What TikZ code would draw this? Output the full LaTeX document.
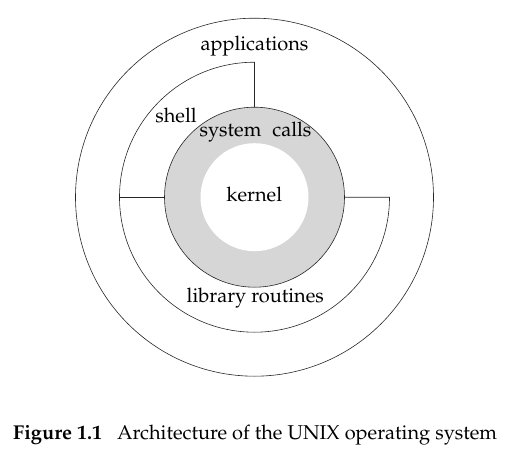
\documentclass[tikz,border=0pt]{standalone}
\usepackage[T1]{fontenc}
\usepackage{mathpazo}
\definecolor{callgray}{gray}{0.84}
\tikzset{
  ring/.style={line width=0.6pt, draw=black!85},
  lbl/.style={font=\fontsize{20}{24}\selectfont, anchor=base, inner sep=0pt},
}
\begin{document}
\begin{tikzpicture}[x=1pt, y=1pt]
        \useasboundingbox (0,0) rectangle (525,451);
        \coordinate (c) at (254.5, 253.8);

        % outer ring: applications
        \draw [ring] (c) circle [radius=179];

        % shell and library routines
        \draw [ring] (c) ++(90:135) arc [start angle=90, end angle=360, radius=135] -- ++(-45,0);
        \draw [ring] (c) ++(90:135) -- ++(0,-45);
        \draw [ring] (c) ++(180:135) -- ++(45,0);

        % system calls and kernel
        \filldraw [ring, fill=callgray] (c) circle [radius=90];
        \fill [white] (c) circle [radius=54];

        \node (apps)   at (254.5, 400.3) [lbl] {applications};
        \node (shell)  at (176,   328.3) [lbl] {shell};
        \node (calls)  at (255.5, 314.3) [lbl] {system\hspace{0.3em} calls};
        \node (kernel) at (254.3, 249.3) [lbl] {kernel};
        \node (lib)    at (255.3, 148.3) [lbl] {library routines};

        \node (cap) at (13, 12) [anchor=base west, inner sep=0pt, font=\fontsize{20}{24}\selectfont]
          {\textbf{Figure 1.1}\hspace{0.75em}Architecture of the UNIX operating system};
      \end{tikzpicture}
\end{document}
